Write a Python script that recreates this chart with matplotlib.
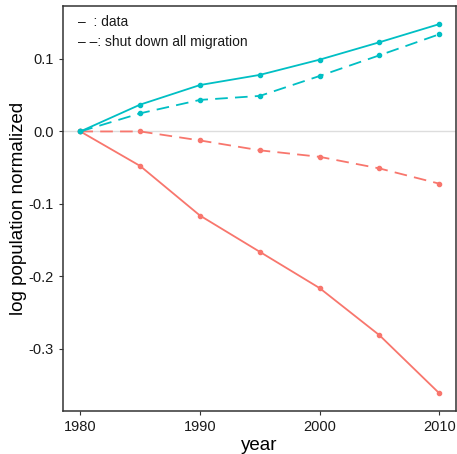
import matplotlib
matplotlib.use('Agg')
import matplotlib.pyplot as plt

plt.rcParams['font.family'] = ['Liberation Sans', 'DejaVu Sans']

years = [1980, 1985, 1990, 1995, 2000, 2005, 2010]

# solid = data, dashed = shut down all migration
teal_data = [0.0, 0.037, 0.064, 0.078, 0.099, 0.123, 0.148]
teal_shut = [0.0, 0.025, 0.0435, 0.049, 0.0765, 0.105, 0.134]
red_data = [0.0, -0.0476, -0.116, -0.166, -0.216, -0.281, -0.361]
red_shut = [0.0, 0.0, -0.0124, -0.026, -0.035, -0.051, -0.072]

RED = '#F8766D'
TEAL = '#00BFC4'

W, H = 457, 454
fig = plt.figure(figsize=(W / 100, H / 100), dpi=100)
ax = fig.add_axes([63 / W, 43 / H, 393 / W, 405 / H])

ax.axhline(0, color='#dddddd', lw=1, zorder=0)

kw = dict(lw=1.3, marker='o', ms=3)
ax.plot(years, red_data, color=RED, **kw)
ax.plot(years, red_shut, color=RED, ls=(0, (7, 4)), **kw)
ax.plot(years, teal_data, color=TEAL, **kw)
ax.plot(years, teal_shut, color=TEAL, ls=(0, (7, 4)), **kw)

ax.set_xlim(1978.55, 2011.4)
ax.set_ylim(-0.3855, 0.173)
ax.set_xticks([1980, 1990, 2000, 2010])
ax.set_yticks([-0.3, -0.2, -0.1, 0.0, 0.1])
ax.set_yticklabels(['-0.3', '-0.2', '-0.1', '0.0', '0.1'])
ax.tick_params(labelsize=10.5, length=3, color='#333333', labelcolor='#1a1a1a')
for s in ax.spines.values():
    s.set_color('#333333')
    s.set_linewidth(1.1)

ax.set_xlabel('year', fontsize=13.5, labelpad=2)
ax.set_ylabel('log population normalized', fontsize=13.5, labelpad=1)

fig.text(78 / W, 1 - 22 / H, '\u2013  : data', fontsize=10,
         va='center', ha='left', color='#1a1a1a')
fig.text(78 / W, 1 - 42 / H, '\u2013 \u2013: shut down all migration',
         fontsize=10, va='center', ha='left', color='#1a1a1a')

fig.savefig('out.png', dpi=100)
